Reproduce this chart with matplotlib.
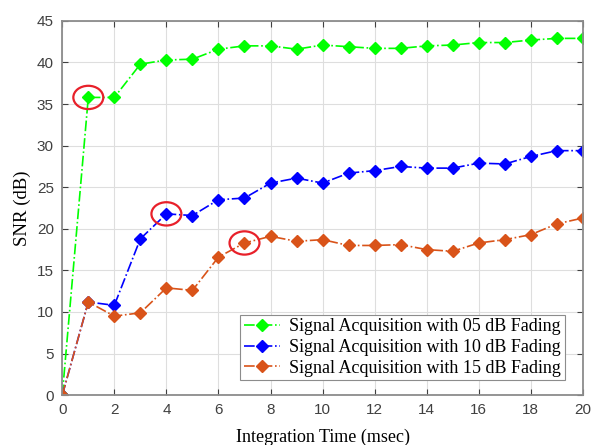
import numpy as np
import matplotlib
matplotlib.use("Agg")
import matplotlib.pyplot as plt
from matplotlib.patches import Ellipse

# integration time (msec) and SNR (dB) per fading level
t_ms = list(range(21))
snr_05 = [0, 35.8, 35.8, 39.8, 40.3, 40.4, 41.6, 42.0, 42.0, 41.6, 42.1,
          41.9, 41.7, 41.7, 42.0, 42.1, 42.4, 42.4, 42.7, 42.9, 42.9]
snr_10 = [0, 11.2, 10.8, 18.8, 21.8, 21.6, 23.5, 23.7, 25.5, 26.1, 25.5,
          26.7, 27.0, 27.5, 27.3, 27.3, 27.9, 27.8, 28.7, 29.4, 29.4]
snr_15 = [0, 11.2, 9.5, 9.9, 12.9, 12.6, 16.6, 18.3, 19.1, 18.5, 18.7,
          18.0, 18.0, 18.1, 17.5, 17.3, 18.3, 18.7, 19.3, 20.6, 21.3]
labels = ["Signal Acquisition with 05 dB Fading",
          "Signal Acquisition with 10 dB Fading",
          "Signal Acquisition with 15 dB Fading"]
# highlighted points (x index, series)
circled = [(1, snr_05), (4, snr_10), (7, snr_15)]

fig = plt.figure(figsize=(5.93, 4.45), dpi=100)
ax = fig.add_axes([0.105, 0.112, 0.878, 0.841])

colors = ['#00ff00', '#0000ff', '#d95319']
for y, c, lab in zip([snr_05, snr_10, snr_15], colors, labels):
    ax.plot(t_ms, y, linestyle='-.', color=c, marker='D', markersize=6.5,
            linewidth=1.2, label=lab)

for i, s in circled:
    ax.add_patch(Ellipse((t_ms[i], s[i]), 1.15, 2.8, fill=False,
                         edgecolor='#e8202a', linewidth=1.6, zorder=5))

ax.set_xlim(0, 20)
ax.set_ylim(0, 45)
ax.set_xticks(range(0, 21, 2))
ax.set_yticks(range(0, 46, 5))
ax.grid(True, color='#dedede', linewidth=0.8)
ax.set_axisbelow(True)
ax.tick_params(direction='in', top=True, right=True, labelsize=11,
               labelcolor='#404040', color='#404040', length=4, pad=6)
for lbl in ax.get_xticklabels() + ax.get_yticklabels():
    lbl.set_family('Liberation Sans')
for sp in ax.spines.values():
    sp.set_color('#8c8c8c')
    sp.set_linewidth(1.3)

ax.set_xlabel('Integration Time (msec)', family='Liberation Serif',
              fontsize=13, labelpad=8)
ax.set_ylabel('SNR (dB)', family='Liberation Serif', fontsize=13.5,
              labelpad=4)

leg = ax.legend(loc='lower right', bbox_to_anchor=(0.965, 0.04),
                prop={'family': 'Liberation Serif', 'size': 13},
                handlelength=2.0, fancybox=False, framealpha=1,
                borderpad=0.2, labelspacing=0.2, handletextpad=0.5,
                borderaxespad=0)
leg.get_frame().set_edgecolor('#8c8c8c')
leg.get_frame().set_linewidth(0.8)

fig.savefig('out.png', dpi=100)
